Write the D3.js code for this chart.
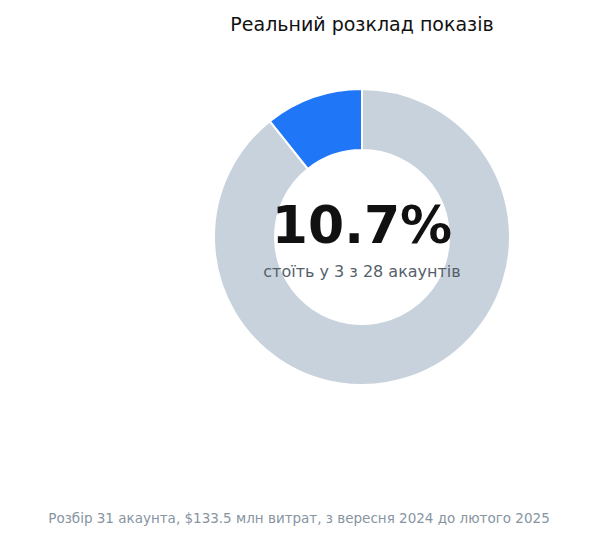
<!DOCTYPE html>
<html><head><meta charset="utf-8">
<script src="https://cdn.jsdelivr.net/npm/d3@7"></script>
<style>body{margin:0;background:#fff}svg{font-family:"DejaVu Sans",sans-serif}</style>
</head><body><svg id="c" width="599" height="541"></svg>
<script>
const categories = ["Інші акаунти", "3 з 28 акаунтів"];
const values = [89.3, 10.7];
const colors = ["#c8d2dc", "#1f76f6"];
const title = "Реальний розклад показів";
const bigLabel = "10.7%";
const subLabel = "стоїть у 3 з 28 акаунтів";
const footer = "Розбір 31 акаунта, $133.5 млн витрат, з вересня 2024 до лютого 2025";

const svg = d3.select("#c");
const cx = 362, cy = 237;
const pie = d3.pie().sort(null)(values);
const arc = d3.arc().innerRadius(87).outerRadius(148);
const g = svg.append("g").attr("transform", `translate(${cx},${cy})`);
g.selectAll("path").data(pie).join("path").attr("d", arc)
  .attr("fill", (d,i)=>colors[i]).attr("stroke", "#fff").attr("stroke-width", 2);
svg.append("text").attr("x", 362).attr("y", 31).attr("text-anchor","middle")
  .attr("font-size", 19).attr("fill", "#111").text(title);
g.append("text").attr("y", 6).attr("text-anchor","middle").attr("font-size", 52)
  .attr("font-weight","bold").attr("fill","#111").text(bigLabel);
g.append("text").attr("y", 40).attr("text-anchor","middle").attr("font-size", 16)
  .attr("fill","#555f6b").text(subLabel);
svg.append("text").attr("x", 299).attr("y", 523).attr("text-anchor","middle")
  .attr("font-size", 13.5).attr("fill","#8794a1").text(footer);
</script></body></html>
